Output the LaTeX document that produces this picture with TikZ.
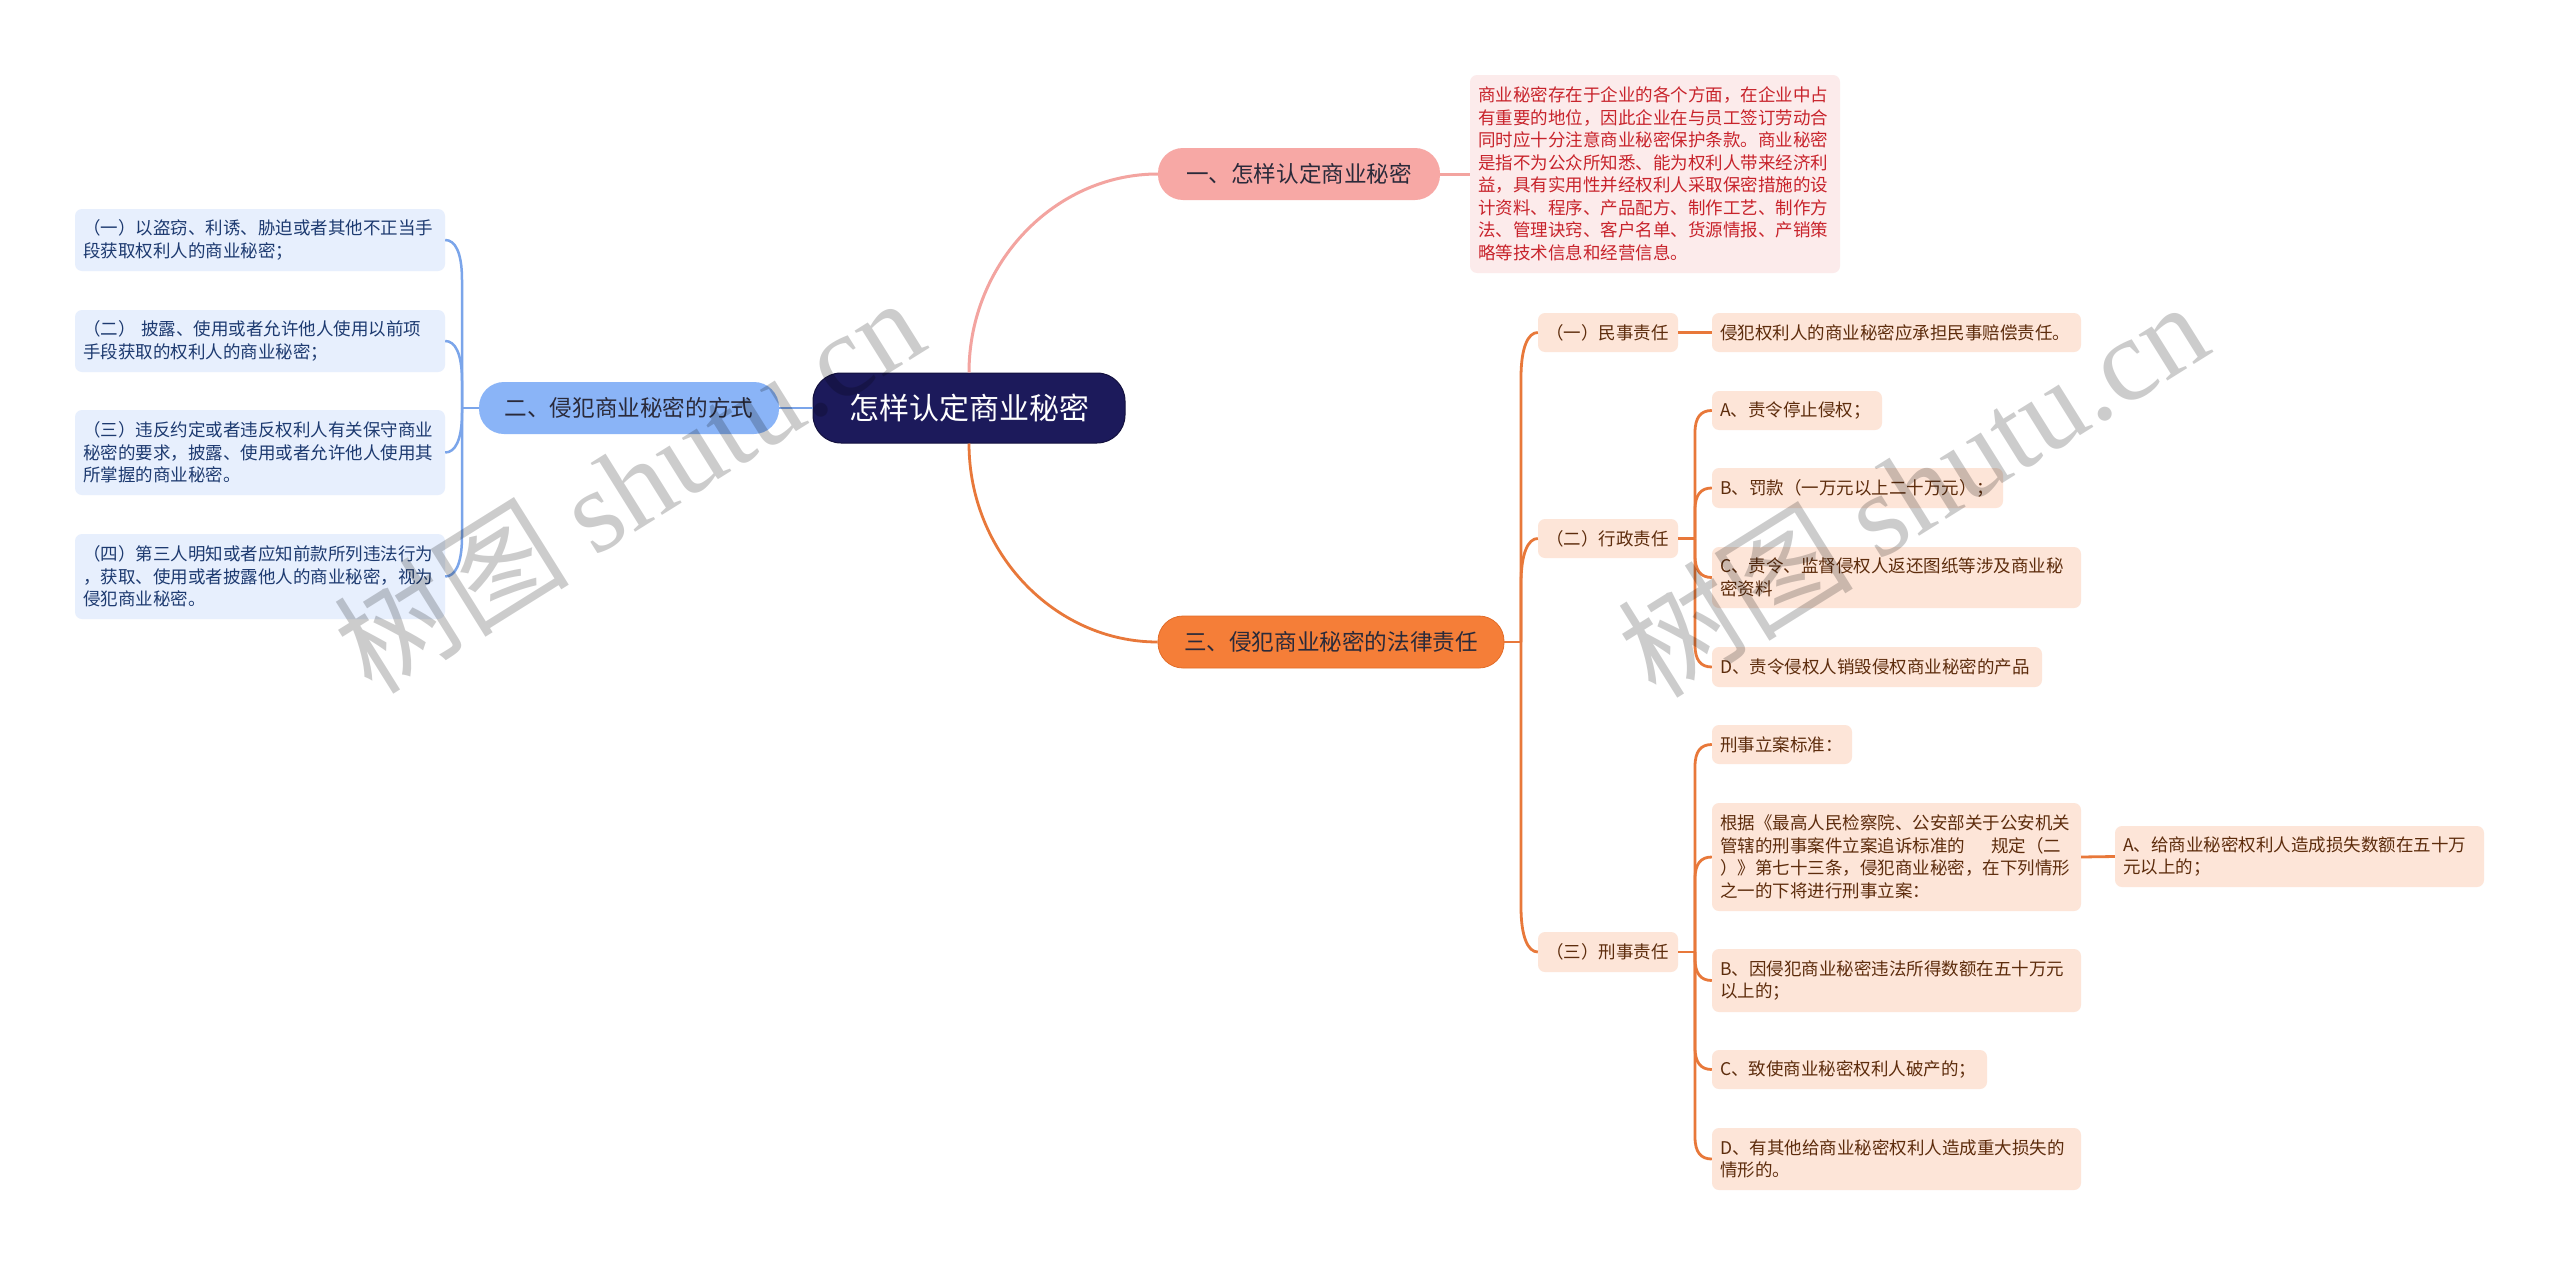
\documentclass[tikz,border=0pt]{standalone}
\usepackage{fontspec}
\setmainfont{Noto Sans CJK SC}
\newfontfamily\wmlat{Liberation Serif}
\definecolor{rootfill}{HTML}{1C1A5B}
\definecolor{rootdraw}{HTML}{13113F}
\definecolor{bluefill}{HTML}{8AB4F7}
\definecolor{pinkfill}{HTML}{F7A8A5}
\definecolor{orangefill}{HTML}{F57E38}
\definecolor{orangedraw}{HTML}{E26C28}
\definecolor{lbfill}{HTML}{E7EFFD}
\definecolor{lbtext}{HTML}{1D3A70}
\definecolor{lofill}{HTML}{FDE5D8}
\definecolor{lotext}{HTML}{5D2C0C}
\definecolor{lpfill}{HTML}{FCEBEB}
\definecolor{lptext}{HTML}{C8232B}
\definecolor{bline}{HTML}{7BA5EA}
\definecolor{pline}{HTML}{F3A4A0}
\definecolor{oline}{HTML}{E8783A}
\definecolor{darktext}{HTML}{2A2A3A}
\newcommand\fsS{\fontsize{17.5pt}{22.5pt}\selectfont}
\newcommand\fsM{\fontsize{22.6pt}{27pt}\selectfont}
\newcommand\fsL{\fontsize{30pt}{36pt}\selectfont}
\begin{document}
\begin{tikzpicture}[x=1pt,y=-1pt,
  rootnode/.style={fill=rootfill, draw=rootdraw, line width=1pt, text=white, rounded corners=28pt,
    minimum width=312pt, minimum height=70pt, inner sep=0pt, font=\fsL},
  mainnode/.style={rounded corners=25pt, minimum height=52pt, inner sep=0pt, font=\fsM, text=darktext},
  leafb/.style={fill=lbfill, text=lbtext, rounded corners=7pt, inner xsep=8pt, inner ysep=0pt, align=left, font=\fsS},
  leafo/.style={fill=lofill, text=lotext, rounded corners=7pt, inner xsep=8pt, inner ysep=0pt, align=left, font=\fsS},
  leafp/.style={fill=lpfill, text=lptext, rounded corners=7pt, inner xsep=8pt, inner ysep=0pt, align=left, font=\fsS},
  bconn/.style={draw=bline, line width=2.5pt},
  pconn/.style={draw=pline, line width=3pt},
  oconn/.style={draw=oline, line width=2.8pt},
  wm/.style={rotate=32, text=black, text opacity=0.2, inner sep=0pt, font=\fontsize{118pt}{118pt}\selectfont}
]
\useasboundingbox[fill=white] (0,0) rectangle (2560,1266);

% main nodes
\node[rootnode] (root) at (969,408) {怎样认定商业秘密};
\node[mainnode, fill=bluefill, minimum width=300pt] (n2) at (629,408) {二、侵犯商业秘密的方式};
\node[mainnode, fill=pinkfill, minimum width=282pt] (n1) at (1299,174) {一、怎样认定商业秘密};
\node[mainnode, fill=orangefill, draw=orangedraw, line width=0.8pt, minimum width=346pt] (n3) at (1331,642) {三、侵犯商业秘密的法律责任};

% pink description
\node[leafp, text width=354pt, minimum height=198pt] (desc) at (1655,174) {商业秘密存在于企业的各个方面，在企业中占\\有重要的地位，因此企业在与员工签订劳动合\\同时应十分注意商业秘密保护条款。商业秘密\\是指不为公众所知悉、能为权利人带来经济利\\益，具有实用性并经权利人采取保密措施的设\\计资料、程序、产品配方、制作工艺、制作方\\法、管理诀窍、客户名单、货源情报、产销策\\略等技术信息和经营信息。};

% left boxes
\node[leafb, text width=354pt, minimum height=62pt] (b1) at (260,240) {（一）以盗窃、利诱、胁迫或者其他不正当手\\段获取权利人的商业秘密；};
\node[leafb, text width=354pt, minimum height=62pt] (b2) at (260,341) {（二）~披露、使用或者允许他人使用以前项\\手段获取的权利人的商业秘密；};
\node[leafb, text width=354pt, minimum height=85pt] (b3) at (260,452.5) {（三）违反约定或者违反权利人有关保守商业\\秘密的要求，披露、使用或者允许他人使用其\\所掌握的商业秘密。};
\node[leafb, text width=354pt, minimum height=85pt] (b4) at (260,576.5) {（四）第三人明知或者应知前款所列违法行为\\，获取、使用或者披露他人的商业秘密，视为\\侵犯商业秘密。};

% right subtree
\node[leafo, text width=124pt, minimum height=39pt] (c1) at (1608,332.5) {（一）民事责任};
\node[leafo, text width=124pt, minimum height=39pt] (c2) at (1608,538.5) {（二）行政责任};
\node[leafo, text width=124pt, minimum height=40pt] (c3) at (1608,952) {（三）刑事责任};

\node[leafo, text width=353pt, minimum height=39pt] (l1) at (1896.5,332.5) {侵犯权利人的商业秘密应承担民事赔偿责任。};

\node[leafo, text width=154pt, minimum height=39pt] (a1) at (1797,410.5) {A、责令停止侵权；};
\node[leafo, text width=275pt, minimum height=40pt] (a2) at (1857.5,488) {B、罚款（一万元以上二十万元）；};
\node[leafo, text width=353pt, minimum height=61pt] (a3) at (1896.5,577.5) {C、责令、监督侵权人返还图纸等涉及商业秘\\密资料};
\node[leafo, text width=314pt, minimum height=40pt] (a4) at (1877,667) {D、责令侵权人销毁侵权商业秘密的产品};

\node[leafo, text width=124pt, minimum height=39pt] (k1) at (1782,744.5) {刑事立案标准：};
\node[leafo, text width=353pt, minimum height=108pt] (k2) at (1896.5,857) {根据《最高人民检察院、公安部关于公安机关\\管辖的刑事案件立案追诉标准的\hspace{1.5em}规定（二\\）》第七十三条，侵犯商业秘密，在下列情形\\之一的下将进行刑事立案：};
\node[leafo, text width=353pt, minimum height=61pt] (ka) at (2299.5,856.5) {A、给商业秘密权利人造成损失数额在五十万\\元以上的；};
\node[leafo, text width=353pt, minimum height=63pt] (k3) at (1896.5,980.5) {B、因侵犯商业秘密违法所得数额在五十万元\\以上的；};
\node[leafo, text width=259pt, minimum height=39pt] (k4) at (1849.5,1069.5) {C、致使商业秘密权利人破产的；};
\node[leafo, text width=353pt, minimum height=62pt] (k5) at (1896.5,1159) {D、有其他给商业秘密权利人造成重大损失的\\情形的。};

% connectors from root
\draw[pconn] (root.north) .. controls (969,263) and (1055,174) .. (n1.west);
\draw[oconn] (root.south) .. controls (969,553) and (1055,642) .. (n3.west);
\draw[bconn] (root.west) -- (n2.east);
\draw[pconn] (n1.east) -- (desc.west);

% left trunk
\draw[bconn] (n2.west) -- (462,408);
\draw[bconn] (462,408) -- (462,280) .. controls (462,252) and (455,240) .. (b1.east);
\draw[bconn] (462,408) -- (462,381) .. controls (462,353) and (455,341) .. (b2.east);
\draw[bconn] (462,408) -- (462,412.5) .. controls (462,440.5) and (455,452.5) .. (b3.east);
\draw[bconn] (462,408) -- (462,536.5) .. controls (462,564.5) and (455,576.5) .. (b4.east);

% trunk of 三
\draw[oconn] (n3.east) -- (1521,642);
\draw[oconn] (1521,642) -- (1521,377.5) .. controls (1521,347.5) and (1528,332.5) .. (c1.west);
\draw[oconn] (1521,642) -- (1521,583.5) .. controls (1521,553.5) and (1528,538.5) .. (c2.west);
\draw[oconn] (1521,642) -- (1521,907) .. controls (1521,937) and (1528,952) .. (c3.west);

\draw[oconn] (c1.east) -- (l1.west);

% trunk of 行政
\draw[oconn] (c2.east) -- (1695,538.5);
\draw[oconn] (1695,538.5) -- (1695,432.5) .. controls (1695,417) and (1701,410.5) .. (a1.west);
\draw[oconn] (1695,538.5) -- (1695,510) .. controls (1695,494.5) and (1701,488) .. (a2.west);
\draw[oconn] (1695,538.5) -- (1695,555.5) .. controls (1695,571) and (1701,577.5) .. (a3.west);
\draw[oconn] (1695,538.5) -- (1695,645) .. controls (1695,660.5) and (1701,667) .. (a4.west);

% trunk of 刑事
\draw[oconn] (c3.east) -- (1695,952);
\draw[oconn] (1695,952) -- (1695,766.5) .. controls (1695,751) and (1701,744.5) .. (k1.west);
\draw[oconn] (1695,952) -- (1695,879) .. controls (1695,863.5) and (1701,857) .. (k2.west);
\draw[oconn] (1695,952) -- (1695,958.5) .. controls (1695,974) and (1701,980.5) .. (k3.west);
\draw[oconn] (1695,952) -- (1695,1047.5) .. controls (1695,1063) and (1701,1069.5) .. (k4.west);
\draw[oconn] (1695,952) -- (1695,1137) .. controls (1695,1152.5) and (1701,1159) .. (k5.west);

\draw[oconn] (k2.east) -- (ka.west);

% watermarks
\node[wm] (wm1) at (628,484) {树图 {\wmlat shutu.cn}};
\node[wm] (wm2) at (1912,488) {树图 {\wmlat shutu.cn}};
\end{tikzpicture}
\end{document}
